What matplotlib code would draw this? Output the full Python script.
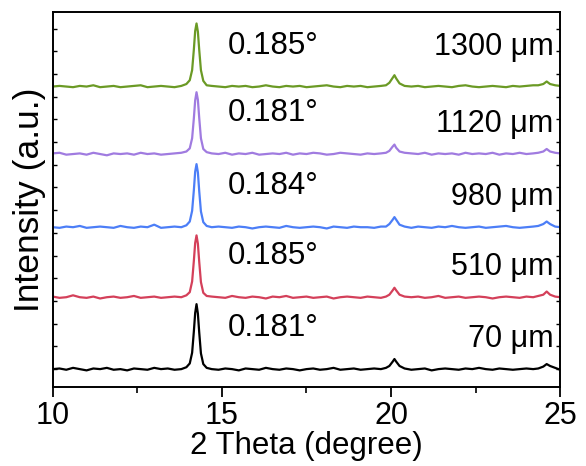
import matplotlib
matplotlib.use("Agg")
import matplotlib.pyplot as plt
from matplotlib.ticker import MultipleLocator

plt.rcParams['font.family'] = ['Liberation Sans', 'DejaVu Sans']

# 2 theta sampling (degree)
two_theta = [10.0, 10.2, 10.4, 10.6, 10.8, 11.0, 11.2, 11.4, 11.6, 11.8,
             12.0, 12.2, 12.4, 12.6, 12.8, 13.0, 13.2, 13.4, 13.6, 13.8,
             13.95, 14.05, 14.12, 14.17, 14.21, 14.25, 14.29, 14.33, 14.38, 14.45, 14.55,
             14.7, 14.9, 15.1, 15.3, 15.5, 15.7, 15.9, 16.1, 16.3, 16.5,
             16.7, 16.9, 17.1, 17.3, 17.5, 17.7, 17.9, 18.1, 18.3, 18.5,
             18.7, 18.9, 19.1, 19.3, 19.5, 19.7,
             19.85, 19.95, 20.05, 20.1, 20.15, 20.25, 20.4,
             20.6, 20.8, 21.0, 21.2, 21.4, 21.6, 21.8, 22.0, 22.2, 22.4,
             22.6, 22.8, 23.0, 23.2, 23.4, 23.6, 23.8, 24.0, 24.2,
             24.35, 24.5, 24.6, 24.7, 24.85, 25.0]

# intensities (a.u., main peak ~100), bottom to top
i_70 = [0, 1, -1, 2, 0, -2, 1, 0, 2, -1, 0, -2, 1, 0, -1, 2, 0, 1, -1, 0,
        3, 9, 26, 59, 89, 103, 88, 58, 25, 8, 2,
        0, -1, 1, 0, -2, 1, 0, -1, 2, 0, -1, 1, 0, -2, 0, 1, -1, 0, 2, -1, 0, 1, -1, 0, 1, 0,
        2, 5, 12, 16, 12, 5, 1,
        -1, 0, 1, -2, 0, 1, 0, -1, 1, 0, 2, 0, -1, 1, 0, -1, 0, 1, 0,
        1, 4, 8, 5, 2, -1]
i_510 = [1, -1, 0, 3, 0, -1, 1, -2, 0, 1, -1, 0, 2, -1, 0, 1, -1, 0, 1, 0,
         3, 8, 25, 57, 86, 98, 85, 56, 24, 7, 2,
         1, 0, -1, 2, 0, -1, 1, 0, -2, 1, 0, 2, -1, 0, 1, -1, 0, 1, -2, 0, 1, 0, -1, 1, 0, -1,
         1, 4, 11, 15, 11, 4, 1,
         0, 1, -1, 0, 2, -1, 0, 1, -1, 0, 1, 0, -2, 0, 1, 0, -1, 1, 0,
         2, 4, 9, 4, 1, 0]
i_980 = [0, -1, 1, 0, 2, -1, 0, 1, 0, -1, 2, 0, -1, 1, 0, 4, -1, 0, 1, 0,
         3, 9, 26, 58, 88, 100, 87, 57, 25, 8, 2,
         0, 1, 0, -1, 1, 0, -2, 0, 1, 0, -1, 2, 0, -1, 0, 1, 0, -2, 1, 0, -1, 1, 0, 0, -1, 1,
         1, 5, 12, 16, 12, 4, 1,
         -1, 1, 0, -1, 1, 0, 2, 0, -1, 0, 1, -1, 0, 1, 2, 0, -1, 0, 1,
         2, 5, 9, 5, 1, 0]
i_1120 = [1, 2, -1, 0, 1, -1, 2, 0, -2, 1, 0, 1, -1, 2, 0, 1, -1, 0, 1, 2,
          4, 9, 25, 56, 85, 98, 86, 57, 25, 8, 3,
          1, 0, 2, -1, 1, 0, 2, -1, 0, 1, 0, 2, -1, 1, 0, 2, 1, -1, 0, 2, 1, 0, -1, 1, 0, 1,
          2, 5, 12, 15, 10, 4, 2,
          1, 0, 2, -1, 1, 0, 1, -1, 2, 0, 1, 0, 2, -1, 1, 0, 2, 0, 1,
          2, 4, 8, 4, 2, 1]
i_1300 = [0, 1, 0, -1, 1, 0, 2, -1, 0, 1, -1, 0, 1, 2, -1, 0, 1, 0, -1, 1,
          4, 10, 26, 58, 88, 100, 87, 58, 26, 9, 2,
          1, 0, -1, 1, 0, 1, -1, 0, 2, 0, -1, 1, 0, 1, -1, 0, 1, 2, 0, -1, 1, 0, 1, -1, 0, 1,
          2, 6, 14, 18, 13, 5, 1,
          0, 1, -1, 0, 1, 0, -1, 1, 2, 0, -1, 0, 1, 0, -1, 1, 0, 1, 2,
          2, 4, 8, 4, 2, 1]

thickness = ["70 \u03bcm", "510 \u03bcm", "980 \u03bcm", "1120 \u03bcm", "1300 \u03bcm"]
fwhm = ["0.181\u00b0", "0.185\u00b0", "0.184\u00b0", "0.181\u00b0", "0.185\u00b0"]
patterns = [i_70, i_510, i_980, i_1120, i_1300]
offsets = [0, 114, 225, 341, 448]
colors = ["black", "#d4405a", "#4c7ef7", "#a07be0", "#6b9a25"]

fig = plt.figure(figsize=(5.86, 4.66), dpi=100)
ax = fig.add_axes([0.090, 0.170, 0.866, 0.804])

for i, y in enumerate(patterns):
    shifted = [v + offsets[i] for v in y]
    ax.plot(two_theta, shifted, color=colors[i], lw=1.6)
    ax.text(15.18, offsets[i] + 65, fwhm[i], fontsize=22.5, va='center', ha='left')
    lab_y = offsets[i] + (62 if i == 4 else 48)
    ax.text(24.8, lab_y, thickness[i], fontsize=22, va='center', ha='right')

ax.set_xlim(10, 25)
ax.set_ylim(-28, 566)
ax.xaxis.set_major_locator(MultipleLocator(5))
ax.xaxis.set_minor_locator(MultipleLocator(2.5))
ax.yaxis.set_major_locator(MultipleLocator(36))
ax.tick_params(axis='x', which='major', direction='out', length=7, width=1.3, labelsize=22, pad=3)
ax.tick_params(axis='x', which='minor', direction='out', length=4, width=1.2)
ax.tick_params(axis='y', which='major', direction='in', length=3, width=1, left=True, right=True, labelleft=False)
for s in ax.spines.values():
    s.set_linewidth(1.4)

ax.set_xlabel("2 Theta (degree)", fontsize=22.5, labelpad=0)
ax.set_ylabel("Intensity (a.u.)", fontsize=25.5, labelpad=5)

fig.savefig("out.png", dpi=100)
